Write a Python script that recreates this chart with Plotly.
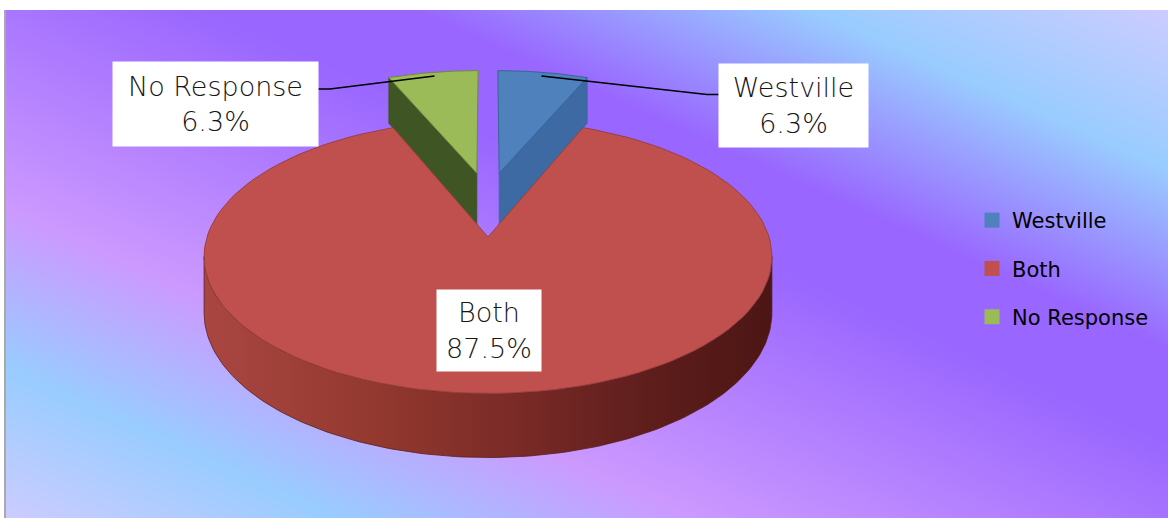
import base64
from decimal import Decimal, ROUND_HALF_UP

import numpy as np
import plotly.graph_objects as go

# ---------------- data ----------------
categories = ["Westville", "Both", "No Response"]
counts = [1, 14, 1]
top_colors = ["#4f81bd", "#c0504d", "#9bbb59"]
side_colors = ["#3d6aa3", "#8e3531", "#3f5624"]
edge_colors = ["#3a6496", "#9c3f3c", "#6f8a3c"]
exploded = [True, False, True]

# ---------------- geometry / style ----------------
FIG_W, FIG_H = 1168, 518
CX, CY = 488, 237          # pie centre (screen px)
RA, RB = 281, 134          # horizontal / vertical radius of top face
PERSP = 0.143              # perspective factor
DEPTH = 55                 # extrusion depth
EXPLODE, LAT = 0.52, 0.42  # explosion distance and lateral squeeze


def proj(u, v, z=0.0):
    u = np.asarray(u, dtype=float)
    v = np.asarray(v, dtype=float)
    w = 1 + PERSP * v
    return CX + RA * u / w, CY - RB * v / w + DEPTH * z / w


def pct_text(c, total):
    val = Decimal(str(100.0 * c / total)).quantize(Decimal("0.1"), rounding=ROUND_HALF_UP)
    return f"{val}%"


total = sum(counts)
fracs = np.array(counts, dtype=float) / total
ends = np.cumsum(fracs) * 360.0
starts = ends - fracs * 360.0

fig = go.Figure()

side_traces, top_traces, wall_traces = [], [], []
slice_info = []
front_a = np.degrees(np.arccos(-PERSP))
front_b = 360 - front_a

for i, cat in enumerate(categories):
    th0, th1 = starts[i], ends[i]
    mid = np.radians((th0 + th1) / 2)
    if exploded[i]:
        du, dv = EXPLODE * np.sin(mid) * LAT, EXPLODE * np.cos(mid)
    else:
        du, dv = 0.0, 0.0
    t = np.radians(np.linspace(th0, th1, 120))
    au, av = du + np.sin(t), dv + np.cos(t)
    ax_, ay_ = proj(au, av)
    apx, apy = proj(du, dv)
    # top face
    top_traces.append(go.Scatter(
        x=np.concatenate([[apx], ax_, [apx]]), y=np.concatenate([[apy], ay_, [apy]]),
        mode="lines", fill="toself", fillcolor=top_colors[i],
        line=dict(color=edge_colors[i], width=1), hoverinfo="skip", showlegend=False))
    # radial side faces
    for th, sgn in ((th0, -1), (th1, 1)):
        r = np.radians(th)
        nv = -sgn * np.sin(r)
        if nv < -1e-6:
            eu, ev = du + np.sin(r), dv + np.cos(r)
            xs_t, ys_t = proj([du, eu], [dv, ev])
            xs_b, ys_b = proj([eu, du], [ev, dv], 1.0)
            side_traces.append(go.Scatter(
                x=np.concatenate([xs_t, xs_b, xs_t[:1]]),
                y=np.concatenate([ys_t, ys_b, ys_t[:1]]),
                mode="lines", fill="toself", fillcolor=side_colors[i],
                line=dict(color=side_colors[i], width=0.8), hoverinfo="skip", showlegend=False))
    # outer wall (front part only)
    wa, wb = max(th0, front_a), min(th1, front_b)
    if wb > wa:
        tw = np.radians(np.linspace(wa, wb, 160))
        wu, wv = du + np.sin(tw), dv + np.cos(tw)
        xt, yt = proj(wu, wv)
        xb, yb = proj(wu[::-1], wv[::-1], 1.0)
        wall_traces.append(go.Scatter(
            x=np.concatenate([xt, xb, xt[:1]]), y=np.concatenate([yt, yb, yt[:1]]),
            mode="lines", fill="toself",
            fillgradient=dict(type="horizontal", colorscale=[
                [0.0, "#aa4642"], [0.3, "#93392f"], [0.55, "#7a2a27"],
                [0.8, "#5c1d1b"], [1.0, "#4c1614"]]),
            line=dict(color="#5a2020", width=0.8), hoverinfo="skip", showlegend=False))
    mx, my = proj(du + 0.96 * np.sin(mid), dv + 0.96 * np.cos(mid))
    slice_info.append((float(mx), float(my)))

# exploded slices first (behind), then the big slice
order_back = [tr for tr in side_traces] + [top_traces[0], top_traces[2]]
for tr in order_back:
    fig.add_trace(tr)
for tr in wall_traces:
    fig.add_trace(tr)
fig.add_trace(top_traces[1])

# ---------------- labels ----------------
label_boxes = {  # centre x, centre y, width, height, attach side
    "Westville": (793.5, 105.5, 149, 83, "left"),
    "Both": (489, 330.5, 104, 81, None),
    "No Response": (215.5, 104, 205, 84, "right"),
}
label_font = dict(family="DejaVu Sans", size=27, color="#161616", weight=200)
for i, cat in enumerate(categories):
    bx, by, bw, bh, side = label_boxes[cat]
    fig.add_annotation(
        x=bx, y=by, xref="x", yref="y", showarrow=False,
        text=f"{cat}<br>{pct_text(counts[i], total)}",
        width=bw - 2, height=bh - 2, bgcolor="white", borderpad=1,
        font=label_font, align="center", valign="middle")
    if side is not None:
        mx, my = slice_info[i]
        if side == "left":
            ex = bx - bw / 2
            ey = by - 11
            px = [mx, ex - 12, ex]
        else:
            ex = bx + bw / 2
            ey = by - 15
            px = [mx, ex + 12, ex]
        fig.add_trace(go.Scatter(x=px, y=[my, ey, ey], mode="lines",
                                 line=dict(color="black", width=1.6),
                                 hoverinfo="skip", showlegend=False))

# ---------------- legend ----------------
for i, cat in enumerate(categories):
    fig.add_trace(go.Scatter(
        x=[None], y=[None], mode="markers", name=cat, legendgroup=cat,
        marker=dict(symbol="square", size=15, color=top_colors[i]),
        hoverinfo="skip", showlegend=True))

# ---------------- background ----------------
bg_stops = [(0.0, "#ccccff"), (0.155, "#99ccff"), (0.33, "#9966ff"), (0.42, "#9966ff"),
            (0.70, "#cc99ff"), (0.855, "#99ccff"), (1.0, "#ccccff")]
BW, BH = 1162, 508
stops_svg = "".join(f"<stop offset='{o}' stop-color='{c}'/>" for o, c in bg_stops)
svg = (f"<svg xmlns='http://www.w3.org/2000/svg' width='{BW}' height='{BH}' "
       f"viewBox='0 0 {BW} {BH}' preserveAspectRatio='none'><defs>"
       f"<linearGradient id='g' gradientUnits='userSpaceOnUse' x1='{BW}' y1='0' x2='776' y2='857'>"
       f"{stops_svg}</linearGradient></defs>"
       f"<rect width='{BW}' height='{BH}' fill='url(#g)'/></svg>")
bg_src = "data:image/svg+xml;base64," + base64.b64encode(svg.encode()).decode()

fig.update_layout(
    width=FIG_W, height=FIG_H,
    margin=dict(l=0, r=0, t=0, b=0),
    paper_bgcolor="white", plot_bgcolor="rgba(0,0,0,0)",
    xaxis=dict(range=[0, FIG_W], visible=False, fixedrange=True),
    yaxis=dict(range=[FIG_H, 0], visible=False, fixedrange=True),
    images=[dict(source=bg_src, xref="paper", yref="paper", x=6 / FIG_W, y=1 - 10 / FIG_H,
                 sizex=BW / FIG_W, sizey=BH / FIG_H, sizing="stretch", layer="below",
                 xanchor="left", yanchor="top")],
    shapes=[dict(type="line", xref="paper", yref="paper", x0=5 / FIG_W, x1=5 / FIG_W,
                 y0=0, y1=1 - 10 / FIG_H, line=dict(color="#8c8c8c", width=1.5))],
    legend=dict(x=972 / FIG_W, y=1 - 200 / FIG_H, xanchor="left", yanchor="top",
                bgcolor="rgba(0,0,0,0)", font=dict(family="DejaVu Sans", size=21, color="black"),
                tracegroupgap=18, traceorder="grouped", itemwidth=30),
    showlegend=True,
    hovermode=False,
)

fig.write_html("out.html", config={"displayModeBar": False, "staticPlot": False},
               post_script="document.body.style.margin='0';document.body.style.overflow='hidden';")
